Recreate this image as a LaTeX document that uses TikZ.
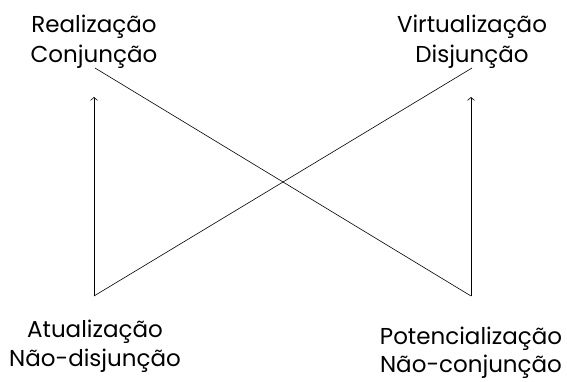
\documentclass[tikz,border=0pt]{standalone}
\usepackage{fontspec}
\setmainfont{Poppins}
\usetikzlibrary{arrows.meta}
\begin{document}
\begin{tikzpicture}[x=1pt,y=-1pt,
  lbl/.style={anchor=base,inner sep=0pt,font=\fontsize{23}{27}\selectfont},
  conn/.style={line width=0.6pt},
  arr/.style={line width=0.6pt,-{Straight Barb[length=3pt,width=7pt]}}]
\useasboundingbox (0,0) rectangle (567,381);
% labels
\node[lbl] (r1) at (94,32) {Realização};
\node[lbl] (r2) at (94,62) {Conjunção};
\node[lbl] (v1) at (472,32) {Virtualização};
\node[lbl] (v2) at (472,62) {Disjunção};
\node[lbl] (a1) at (95,337) {Atualização};
\node[lbl] (a2) at (95,366) {Não-disjunção};
\node[lbl] (p1) at (471,344) {Potencialização};
\node[lbl] (p2) at (471,372) {Não-conjunção};
% points
\coordinate (bl) at (94,296);
\coordinate (br) at (471,296);
\coordinate (tla) at (94,97);
\coordinate (tra) at (471,97);
\coordinate (tll) at (95,68);
\coordinate (trl) at (472,68);
\draw[arr] (bl) -- (tla);
\draw[arr] (br) -- (tra);
\draw[conn] (tll) -- (br);
\draw[conn] (bl) -- (trl);
\end{tikzpicture}
\end{document}
